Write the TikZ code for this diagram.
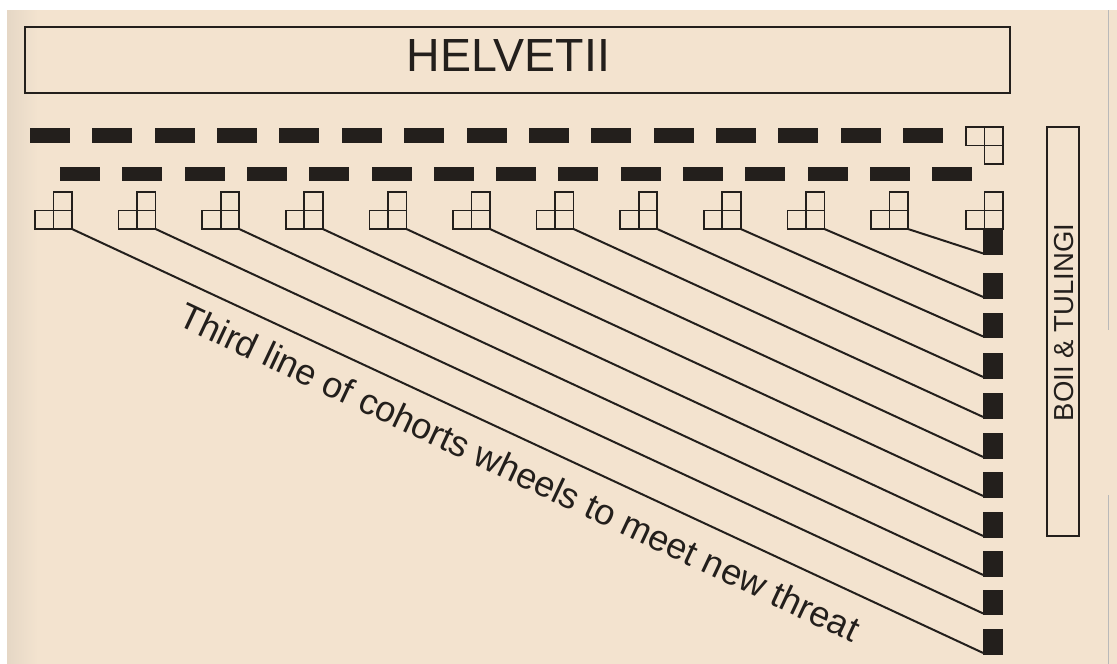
\documentclass[tikz,border=0pt]{standalone}
\usepackage{fontspec}
\setmainfont{Liberation Sans}
\definecolor{paper}{HTML}{F3E3CF}
\definecolor{ink}{HTML}{231F1C}
\tikzset{
  framebox/.style={draw=ink, line width=2pt, inner sep=0pt, fill=none},
  dashbar/.style={fill=ink, draw=none},
  cell/.style={draw=ink, line width=1.7pt},
  blocksq/.style={fill=ink, draw=none, inner sep=0pt, minimum width=20pt, anchor=north west},
  wheel/.style={draw=ink, line width=2pt},
  lbl/.style={text=ink, inner sep=0pt}
}
\begin{document}
\begin{tikzpicture}[x=1pt,y=-1pt]
\useasboundingbox (0,0) rectangle (1117,664);
\fill[white] (0,0) rectangle (1117,664);
\fill[paper] (7,10) rectangle (1117,664);
\shade[left color=paper!88!gray, right color=paper] (7,10) rectangle (38,664);
\draw[gray!55, line width=1pt] (1108,10) -- (1108,330) (1108,495) -- (1108,664);

% HELVETII box
\node[framebox, minimum width=985pt, minimum height=66pt] (helv) at (517.5,60) {};
\node[lbl, font=\fontsize{46.5}{46.5}\selectfont] (helvtext) at (508.5,56) {HELVETII};

% BOII & TULINGI box
\node[framebox, minimum width=32pt, minimum height=409pt] (boii) at (1063,331.5) {};
\node[lbl, rotate=90, font=\fontsize{27.5}{27.5}\selectfont] (boiitext) at (1064.5,322.5) {BOII \& TULINGI};

% first dashed line
\foreach \k in {0,...,14}
  \fill[dashbar] ({30+62.36*\k},128) rectangle ++(40,14.5);
% second dashed line
\foreach \k in {0,...,14}
  \fill[dashbar] ({60+62.3*\k},167) rectangle ++(40,14);

% cohort symbol at end of first line
\draw[cell] (966,127) rectangle (984.5,145.5);
\draw[cell] (984.5,127) rectangle (1003,145.5);
\draw[cell] (984.5,145.5) rectangle (1003,164);

% third line cohorts
\foreach \x [count=\i] in {35,118.6,202.2,285.8,369.4,453,536.6,620.2,703.8,787.4,871,966} {
  \draw[cell] (\x+18.5,192) rectangle (\x+37,210.5);
  \draw[cell] (\x,210.5) rectangle (\x+18.5,229);
  \draw[cell] (\x+18.5,210.5) rectangle (\x+37,229);
  \coordinate (c\i) at (\x+37,229);
}

% wheeled cohorts
\node[blocksq, minimum height=26pt] (sq1) at (983,229) {};
\foreach \t [count=\j from 2] in {273,312.5,353,393,433,472,512,551,589.5,629}
  \node[blocksq, minimum height=25.5pt] (sq\j) at (983,\t) {};

% wheel lines
\foreach \i in {1,...,11} {
  \pgfmathtruncatemacro{\j}{12-\i}
  \draw[wheel] (c\i) -- ([yshift=2pt]sq\j.south west);
}

\node[lbl, rotate=-25.2, font=\fontsize{36}{36}\selectfont] (caption) at (520,472) {Third line of cohorts wheels to meet new threat};
\end{tikzpicture}
\end{document}
